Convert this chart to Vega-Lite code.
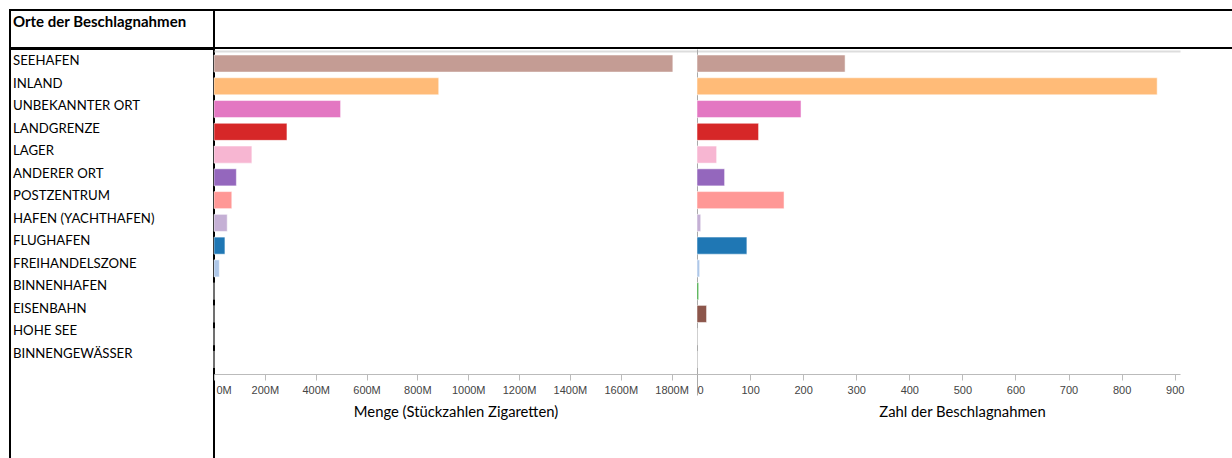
{
  "$schema": "https://vega.github.io/schema/vega-lite/v6.json",
  "background": "white",
  "padding": {"left": 9, "top": 9, "right": 0, "bottom": 0},
  "config": {
    "view": {"stroke": null},
    "font": "Lato"
  },
  "datasets": {
    "orte": [
      {"ort": "SEEHAFEN", "menge": 1805, "anzahl": 279},
      {"ort": "INLAND", "menge": 884, "anzahl": 867},
      {"ort": "UNBEKANNTER ORT", "menge": 498, "anzahl": 196},
      {"ort": "LANDGRENZE", "menge": 287, "anzahl": 116},
      {"ort": "LAGER", "menge": 149, "anzahl": 37},
      {"ort": "ANDERER ORT", "menge": 88, "anzahl": 52},
      {"ort": "POSTZENTRUM", "menge": 70, "anzahl": 164},
      {"ort": "HAFEN (YACHTHAFEN)", "menge": 52, "anzahl": 7},
      {"ort": "FLUGHAFEN", "menge": 43, "anzahl": 94},
      {"ort": "FREIHANDELSZONE", "menge": 21, "anzahl": 5},
      {"ort": "BINNENHAFEN", "menge": 0, "anzahl": 3},
      {"ort": "EISENBAHN", "menge": 0, "anzahl": 18},
      {"ort": "HOHE SEE", "menge": 0, "anzahl": 0},
      {"ort": "BINNENGEWÄSSER", "menge": 0, "anzahl": 0}
    ]
  },
  "spacing": -2,
  "vconcat": [
    {
      "spacing": 0,
      "bounds": "flush",
      "hconcat": [
        {
          "width": 204,
          "height": 38,
          "view": {"stroke": "black", "strokeWidth": 2},
          "data": {"values": [{"titel": "Orte der Beschlagnahmen"}]},
          "mark": {"type": "text", "align": "left", "baseline": "alphabetic", "dx": 3, "dy": 17, "font": "Lato", "fontSize": 15, "fontWeight": "bold", "color": "black"},
          "encoding": {
            "x": {"datum": 0, "type": "quantitative", "scale": {"domain": [0, 1]}, "axis": null},
            "y": {"datum": 0, "type": "quantitative", "scale": {"domain": [0, 1], "reverse": true}, "axis": null},
            "text": {"field": "titel"}
          }
        },
        {
          "width": 1030,
          "height": 38,
          "view": {"stroke": "black", "strokeWidth": 2},
          "data": {"values": [{"titel": ""}]},
          "mark": {"type": "text"},
          "encoding": {"text": {"field": "titel"}}
        }
      ]
    },
    {
      "spacing": 0,
      "bounds": "flush",
      "resolve": {"scale": {"x": "independent", "y": "independent", "color": "shared"}},
      "hconcat": [
        {
          "width": 204,
          "height": 411,
          "view": {"stroke": "black", "strokeWidth": 2},
          "data": {"name": "orte"},
          "mark": {"type": "text", "align": "left", "baseline": "middle", "dx": 3, "font": "Lato", "fontSize": 13.2, "color": "black"},
          "encoding": {
            "y": {"field": "ort", "type": "nominal", "sort": null, "scale": {"type": "point", "padding": 0, "range": [12, 305]}, "axis": null},
            "x": {"datum": 0, "type": "quantitative", "scale": {"domain": [0, 1]}, "axis": null},
            "text": {"field": "ort"}
          }
        },
        {
          "width": 483,
          "height": 325,
          "data": {"name": "orte"},
          "encoding": {
            "y": {"field": "ort", "type": "nominal", "sort": null, "scale": {"paddingInner": 0.25, "paddingOuter": 0.264}, "axis": null},
            "color": {
              "field": "ort",
              "type": "nominal",
              "sort": null,
              "legend": null,
              "scale": {
                "domain": ["SEEHAFEN", "INLAND", "UNBEKANNTER ORT", "LANDGRENZE", "LAGER", "ANDERER ORT", "POSTZENTRUM", "HAFEN (YACHTHAFEN)", "FLUGHAFEN", "FREIHANDELSZONE", "BINNENHAFEN", "EISENBAHN", "HOHE SEE", "BINNENGEWÄSSER"],
                "range": ["#c49c94", "#ffbb78", "#e377c2", "#d62728", "#f7b6d2", "#9467bd", "#ff9896", "#c5b0d5", "#1f77b4", "#aec7e8", "#2ca02c", "#8c564b", "#98df8a", "#17becf"]
              }
            }
          },
          "resolve": {"axis": {"x": "independent"}},
          "layer": [
            {
              "mark": {"type": "bar", "opacity": 0},
              "encoding": {
                "x": {
                  "field": "menge",
                  "type": "quantitative",
                  "scale": {"domain": [0, 1900], "nice": false},
                  "axis": {"orient": "top", "offset": -2, "domainColor": "#ddd", "domainWidth": 2, "labels": false, "ticks": false, "title": null, "grid": false}
                }
              }
            },
            {
              "mark": {"type": "bar", "stroke": "white", "strokeWidth": 1, "strokeOpacity": 0.5},
              "encoding": {
                "x": {
                  "field": "menge",
                  "type": "quantitative",
                  "title": "Menge (Stückzahlen Zigaretten)",
                  "scale": {"domain": [0, 1900], "nice": false},
                  "axis": {
                    "orient": "bottom",
                    "values": [0, 200, 400, 600, 800, 1000, 1200, 1400, 1600, 1800],
                    "labelExpr": "datum.value + 'M'",
                    "labelFlush": false,
                    "labelAlign": {"condition": {"test": "datum.value === 0", "value": "left"}, "value": "center"},
                    "labelOffset": {"condition": {"test": "datum.value === 0", "value": 2}, "value": 0},
                    "labelFont": "Liberation Sans",
                    "labelFontSize": 11,
                    "labelColor": "#444",
                    "labelPadding": 4,
                    "domainColor": "#bbb",
                    "tickColor": "#bbb",
                    "tickSize": 6,
                    "grid": false,
                    "titleFont": "Lato",
                    "titleFontSize": 14.8,
                    "titleFontWeight": "normal",
                    "titleColor": "black",
                    "titlePadding": 9
                  }
                }
              }
            }
          ]
        },
        {
          "width": 483,
          "height": 325,
          "data": {"name": "orte"},
          "encoding": {
            "y": {
              "field": "ort",
              "type": "nominal",
              "sort": null,
              "scale": {"paddingInner": 0.25, "paddingOuter": 0.264},
              "axis": {"domain": true, "domainColor": "#aaa", "labels": false, "ticks": false, "title": null, "grid": false}
            },
            "color": {"field": "ort", "type": "nominal", "sort": null, "legend": null}
          },
          "resolve": {"axis": {"x": "independent"}},
          "layer": [
            {
              "mark": {"type": "bar", "opacity": 0},
              "encoding": {
                "x": {
                  "field": "anzahl",
                  "type": "quantitative",
                  "scale": {"domain": [0, 910], "nice": false},
                  "axis": {"orient": "top", "offset": -2, "domainColor": "#ddd", "domainWidth": 2, "labels": false, "ticks": false, "title": null, "grid": false}
                }
              }
            },
            {
              "mark": {"type": "bar", "stroke": "white", "strokeWidth": 1, "strokeOpacity": 0.5},
              "encoding": {
                "x": {
                  "field": "anzahl",
                  "type": "quantitative",
                  "title": "Zahl der Beschlagnahmen",
                  "scale": {"domain": [0, 910], "nice": false},
                  "axis": {
                    "orient": "bottom",
                    "values": [0, 100, 200, 300, 400, 500, 600, 700, 800, 900],
                    "labelFlush": true,
                    "labelFont": "Liberation Sans",
                    "labelFontSize": 11,
                    "labelColor": "#444",
                    "labelPadding": {"condition": {"test": "datum.value === 0", "value": -11}, "value": 4},
                    "domainColor": "#bbb",
                    "tickColor": {"condition": {"test": "datum.value === 0", "value": "#aaa"}, "value": "#bbb"},
                    "tickSize": {"condition": {"test": "datum.value === 0", "value": 21}, "value": 6},
                    "grid": false,
                    "titleFont": "Lato",
                    "titleFontSize": 14.8,
                    "titleFontWeight": "normal",
                    "titleColor": "black",
                    "titlePadding": 9,
                    "titleX": 265
                  }
                }
              }
            }
          ]
        }
      ]
    }
  ]
}
